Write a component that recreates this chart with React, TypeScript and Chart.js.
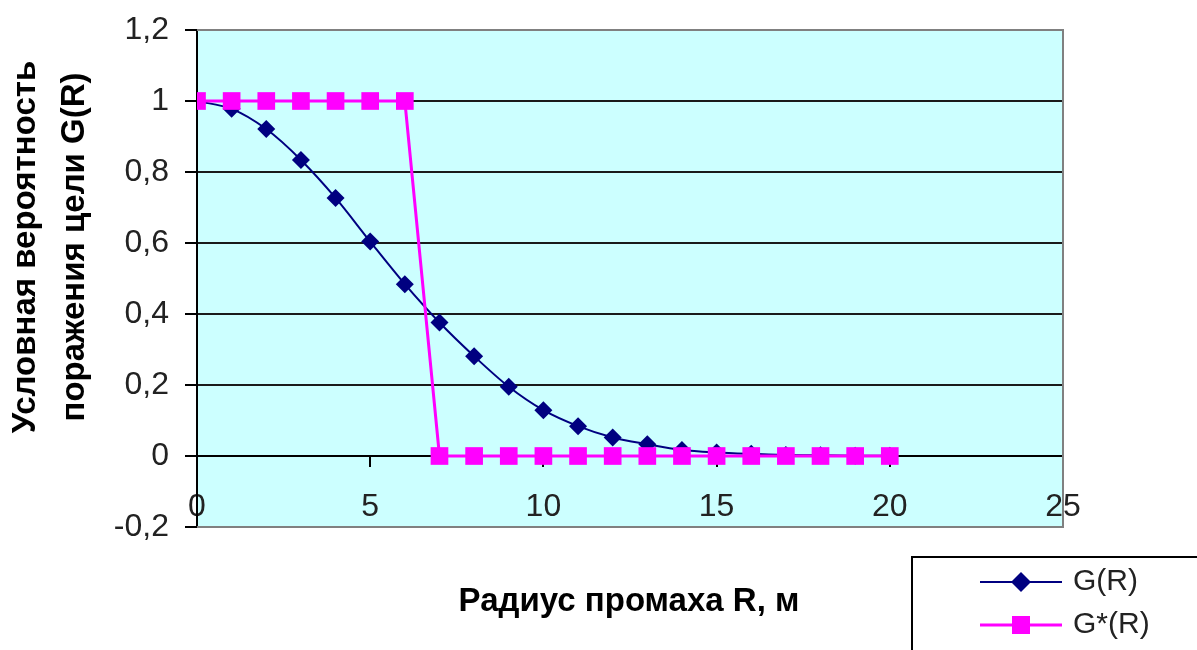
import React, { useEffect, useRef } from "react";
import { Chart, registerables } from "chart.js";

Chart.register(...registerables);

const radius: number[] = [0, 1, 2, 3, 4, 5, 6, 7, 8, 9, 10, 11, 12, 13, 14, 15, 16, 17, 18, 19, 20];
const gValues: number[] = [1, 0.978, 0.921, 0.834, 0.727, 0.604, 0.484, 0.376, 0.281, 0.195, 0.129, 0.084, 0.052, 0.033, 0.017, 0.01, 0.006, 0.003, 0.002, 0.001, 0.0005];
const gStarValues: number[] = [1, 1, 1, 1, 1, 1, 1, 0, 0, 0, 0, 0, 0, 0, 0, 0, 0, 0, 0, 0, 0];
const seriesNames: string[] = ["G(R)", "G*(R)"];
const xTitle = "Радиус промаха R, м";
const yTitleLines: string[] = ["Условная вероятность", "поражения цели G(R)"];

const FONT = "'Liberation Sans', Arial, sans-serif";
const NAVY = "#000080";
const MAGENTA = "#FF00FF";

const decorPlugin = {
  id: "decor",
  beforeDraw(chart: any) {
    const { ctx, chartArea: a } = chart;
    ctx.save();
    ctx.fillStyle = "#ffffff";
    ctx.fillRect(0, 0, chart.width, chart.height);
    ctx.fillStyle = "#CCFFFF";
    ctx.fillRect(a.left, a.top, a.right - a.left, a.bottom - a.top);
    ctx.restore();
  },
  beforeDatasetsDraw(chart: any) {
    const { ctx, chartArea: a } = chart;
    ctx.save();
    ctx.strokeStyle = "#808080";
    ctx.lineWidth = 2;
    ctx.beginPath();
    ctx.moveTo(a.left, a.top);
    ctx.lineTo(a.right, a.top);
    ctx.lineTo(a.right, a.bottom);
    ctx.lineTo(a.left, a.bottom);
    ctx.stroke();
    ctx.restore();
  },
  afterDraw(chart: any) {
    const { ctx } = chart;
    ctx.save();
    // axis titles
    ctx.fillStyle = "#000000";
    ctx.font = `bold 33px ${FONT}`;
    ctx.textAlign = "center";
    ctx.textBaseline = "alphabetic";
    ctx.fillText(xTitle, 629, 611);
    ctx.save();
    ctx.translate(0, 247);
    ctx.rotate(-Math.PI / 2);
    ctx.fillText(yTitleLines[0], 0, 35);
    ctx.fillText(yTitleLines[1], 0, 84);
    ctx.restore();

    // legend
    const lx = 912, ly = 557;
    ctx.fillStyle = "#ffffff";
    ctx.fillRect(lx, ly, 400, 200);
    ctx.strokeStyle = "#000000";
    ctx.lineWidth = 2;
    ctx.strokeRect(lx, ly, 400, 200);
    const ds = chart.data.datasets;
    const rows = [582, 625];
    ds.forEach((d: any, i: number) => {
      const y = rows[i];
      ctx.strokeStyle = d.borderColor;
      ctx.lineWidth = d.borderWidth;
      ctx.beginPath();
      ctx.moveTo(980, y);
      ctx.lineTo(1062, y);
      ctx.stroke();
      ctx.fillStyle = d.pointBackgroundColor;
      ctx.beginPath();
      if (d.pointStyle === "rectRot") {
        const r = 10;
        ctx.moveTo(1021, y - r);
        ctx.lineTo(1021 + r, y);
        ctx.lineTo(1021, y + r);
        ctx.lineTo(1021 - r, y);
        ctx.closePath();
      } else {
        ctx.rect(1021 - 9, y - 9, 18, 18);
      }
      ctx.fill();
      ctx.fillStyle = "#222222";
      ctx.font = `30px ${FONT}`;
      ctx.textAlign = "left";
      ctx.textBaseline = "middle";
      ctx.fillText(d.label, 1073, y);
    });
    ctx.restore();
  },
};

export default function App() {
  const ref = useRef<HTMLCanvasElement | null>(null);
  useEffect(() => {
    if (!ref.current) return;
    const chart = new Chart(ref.current, {
      type: "line",
      data: {
        datasets: [
          {
            label: seriesNames[0],
            data: radius.map((r, i) => ({ x: r, y: gValues[i] })),
            borderColor: NAVY,
            backgroundColor: NAVY,
            pointBackgroundColor: NAVY,
            pointBorderColor: NAVY,
            borderWidth: 2,
            pointStyle: "rectRot",
            pointRadius: 9,
            pointBorderWidth: 0,
            tension: 0.3,
            order: 2,
          },
          {
            label: seriesNames[1],
            data: radius.map((r, i) => ({ x: r, y: gStarValues[i] })),
            borderColor: MAGENTA,
            backgroundColor: MAGENTA,
            pointBackgroundColor: MAGENTA,
            pointBorderColor: MAGENTA,
            borderWidth: 3,
            pointStyle: "rect",
            pointRadius: 12.5,
            pointBorderWidth: 0,
            tension: 0,
            order: 1,
          },
        ] as any,
      },
      options: {
        animation: false,
        responsive: false,
        devicePixelRatio: 1,
        layout: { padding: { left: 0, right: 134, top: 30, bottom: 123 } },
        plugins: { legend: { display: false }, tooltip: { enabled: false } },
        scales: {
          x: {
            type: "linear",
            position: { y: 0 } as any,
            min: 0,
            max: 25,
            afterFit(scale: any) {
              scale.paddingLeft = 0;
              scale.paddingRight = 0;
              scale.paddingTop = 0;
              scale.paddingBottom = 0;
            },
            ticks: {
              stepSize: 5,
              font: { size: 32, family: FONT },
              color: "#222222",
              padding: 22,
              maxRotation: 0,
            },
            grid: {
              display: true,
              drawOnChartArea: false,
              drawTicks: true,
              tickLength: 10,
              color: "#000000",
              lineWidth: 2,
            },
            border: { display: true, color: "#000000", width: 2 },
          },
          y: {
            type: "linear",
            min: -0.2,
            max: 1.2,
            afterFit(scale: any) {
              scale.width = 197;
              scale.paddingTop = 0;
              scale.paddingBottom = 0;
            },
            ticks: {
              stepSize: 0.2,
              font: { size: 32, family: FONT },
              color: "#222222",
              padding: 16,
              callback: (v: any) => {
                const n = Math.round(Number(v) * 10) / 10;
                return String(n).replace(".", ",");
              },
            },
            grid: {
              display: true,
              drawTicks: true,
              tickLength: 12,
              color: (c: any) => (c.tick && Math.abs(c.tick.value + 0.2) < 1e-6 ? "rgba(0,0,0,0)" : "#1a1a1a"),
              tickColor: "#000000",
              lineWidth: 2,
            },
            border: { display: true, color: "#000000", width: 2 },
          },
        },
      },
      plugins: [decorPlugin],
    } as any);
    return () => chart.destroy();
  }, []);
  return (
    <div style={{ position: "fixed", left: 0, top: 0, width: 1197, height: 650, overflow: "hidden", background: "#fff" }}>
      <canvas ref={ref} width={1197} height={650} style={{ width: 1197, height: 650, display: "block" }} />
    </div>
  );
}
